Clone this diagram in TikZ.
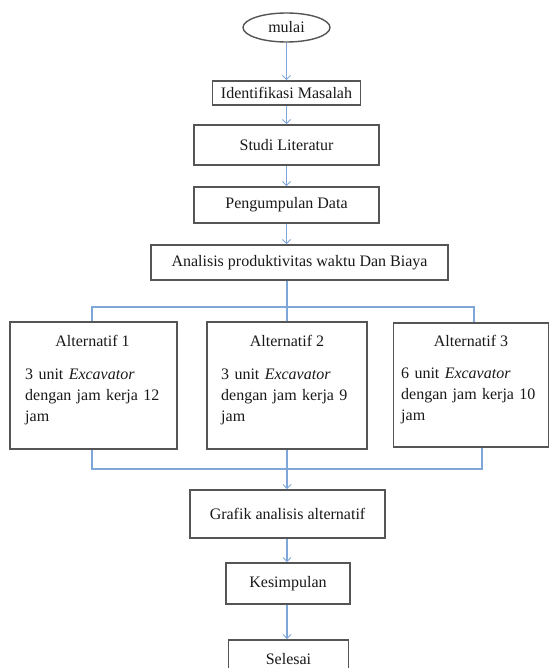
\documentclass[tikz,border=0pt]{standalone}
\usepackage{fontspec}
\setmainfont{Liberation Serif}
\usetikzlibrary{arrows.meta,shapes.geometric}
\definecolor{boxgray}{HTML}{555555}
\definecolor{linkblue}{HTML}{7EA6D8}
\begin{document}
\begin{tikzpicture}[x=1bp,y=-1bp,
  every node/.style={font=\fontsize{16bp}{21bp}\selectfont, inner sep=0pt, text=black!90},
  stepbox/.style={draw=boxgray, line width=1.6bp, rectangle},
  startbox/.style={draw=boxgray, line width=1.4bp, ellipse},
  link/.style={draw=linkblue, line width=1.2bp},
  flow/.style={link, -{Straight Barb[length=4bp,width=8bp,line width=1bp]}},
  bodytext/.style={anchor=north west, align=left, text width=150bp}
]
\useasboundingbox (0,0) rectangle (550,668);
\clip (0,0) rectangle (550,668);
\fill[white] (0,0) rectangle (550,668);

\node[startbox, minimum width=87bp, minimum height=29bp] (mulai) at (286.5,27.5) {mulai};
\node[stepbox, minimum width=148bp, minimum height=24bp] (iden) at (286.5,93) {Identifikasi Masalah};
\node[stepbox, minimum width=185bp, minimum height=40bp] (studi) at (286.5,145) {Studi Literatur};
\node[stepbox, minimum width=185bp, minimum height=36bp] (peng) at (286.5,205) {Pengumpulan Data};
\node[stepbox, minimum width=297bp, minimum height=35bp] (anal) at (299.5,262.5) {Analisis produktivitas waktu Dan Biaya};

\node[stepbox, minimum width=167bp, minimum height=127bp] (alt1) at (93.5,385.5) {};
\node[stepbox, minimum width=160bp, minimum height=127bp] (alt2) at (287,385.5) {};
\node[stepbox, minimum width=155bp, minimum height=124bp] (alt3) at (471,385) {};

\node (t1) at (92.5,341) {Alternatif 1};
\node (t2) at (287,341) {Alternatif 2};
\node (t3) at (471,341) {Alternatif 3};
\node[bodytext] (b1) at (25,369) {3 unit \textit{Excavator}\\dengan jam kerja 12\\jam};
\node[bodytext] (b2) at (221,369) {3 unit \textit{Excavator}\\dengan jam kerja 9\\jam};
\node[bodytext] (b3) at (401,368) {6 unit \textit{Excavator}\\dengan jam kerja 10\\jam};

\node[stepbox, minimum width=195bp, minimum height=48bp] (grafik) at (287.5,514) {Grafik analisis alternatif};
\node[stepbox, minimum width=124bp, minimum height=41bp] (kesim) at (288,583.5) {Kesimpulan};
\node[stepbox, minimum width=120bp, minimum height=38bp] (selesai) at (288.5,659) {Selesai};

\coordinate (top) at (287,307);
\coordinate (bot) at (287,469);
\coordinate (tl) at (92,307);
\coordinate (tr) at (474,307);
\coordinate (bl) at (92,469);
\coordinate (br) at (482,469);

\draw[flow] (mulai) -- (iden);
\draw[flow] (iden.south -| mulai.south) -- (studi.north -| mulai.south);
\draw[flow] (studi.south -| mulai.south) -- (peng.north -| mulai.south);
\draw[flow] (peng.south -| mulai.south) -- (anal.north -| mulai.south);
\draw[link] (anal.south -| alt2.north) -- (alt2.north);
\draw[link] (alt1.north -| tl) -- (tl) -- (tr) -- (alt3.north -| tr);
\draw[link] (alt1.south -| bl) -- (bl) -- (br) -- (alt3.south -| br);
\draw[link] (alt2.south) -- (bot);
\draw[flow] (bot) -- (grafik.north -| bot);
\draw[flow] (grafik.south -| bot) -- (kesim.north -| bot);
\draw[flow] (kesim.south -| bot) -- (selesai.north -| bot);
\end{tikzpicture}
\end{document}
